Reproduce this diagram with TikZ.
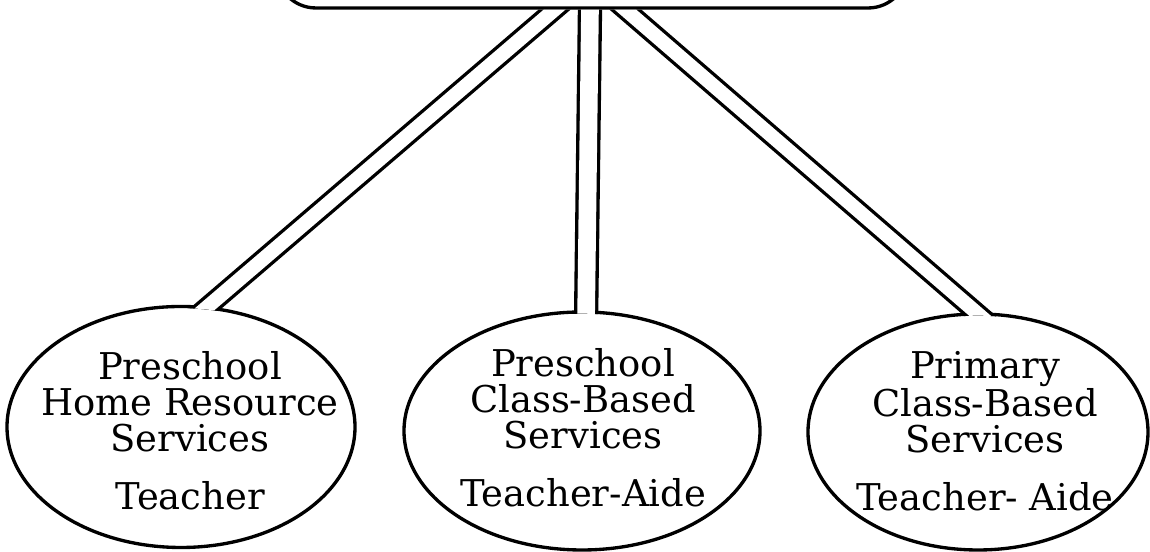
\documentclass[tikz,border=0pt]{standalone}
\usepackage{fontspec}
\setmainfont{DejaVu Serif}
\usetikzlibrary{shapes.geometric}

\tikzset{
  oval/.style={draw, ellipse, line width=1.9pt, inner sep=0pt, outer sep=0pt},
  ovaltext/.style={align=center, font=\fontsize{21pt}{20.5pt}\selectfont},
  link/.style={draw, line width=1.9pt, double, double distance=0.283cm,
    shorten <=-0.3cm, shorten >=-0.3cm},
}

\begin{document}
\begin{tikzpicture}
\useasboundingbox (0,0) rectangle (23.000,11.040);
\node[draw, line width=1.9pt, rounded corners=0.8cm, outer sep=0pt,
  minimum width=12.640cm, minimum height=2.000cm] (prog) at (11.840,11.880) {};
\node[oval, minimum width=6.960cm, minimum height=4.820cm] (e1) at (3.620,2.500) {};
\node[oval, minimum width=7.120cm, minimum height=4.760cm] (e2) at (11.640,2.420) {};
\node[oval, minimum width=6.800cm, minimum height=4.720cm] (e3) at (19.560,2.400) {};
\node[ovaltext] (t1) at (3.800,2.420) {Preschool\\Home Resource\\Services\\[0.44cm]Teacher};
\node[ovaltext] (t2) at (11.660,2.480) {Preschool\\Class-Based\\Services\\[0.44cm]Teacher-Aide};
\node[ovaltext] (t3) at (19.700,2.420) {Primary\\Class-Based\\Services\\[0.44cm]Teacher- Aide};
\begin{scope}
\clip (0,0) -- (0,11.040) -- (23.000,11.040) -- (23.000,0) -- cycle
  ([yshift=-0.95pt]prog.south west) -- ([yshift=-0.95pt]prog.south east)
  -- ([yshift=2cm]prog.north east) -- ([yshift=2cm]prog.north west) -- cycle
  (e1.center) ellipse [x radius=3.446cm, y radius=2.376cm]
  (e2.center) ellipse [x radius=3.526cm, y radius=2.346cm]
  (e3.center) ellipse [x radius=3.366cm, y radius=2.326cm];
\draw[link] ([xshift=-0.710cm]prog.south) -- (e1.78);
\draw[link, double distance=0.353cm] ([xshift=-0.040cm]prog.south) -- (e2.88);
\draw[link] ([xshift=0.630cm]prog.south) -- (e3.north);
\end{scope}
\end{tikzpicture}
\end{document}
